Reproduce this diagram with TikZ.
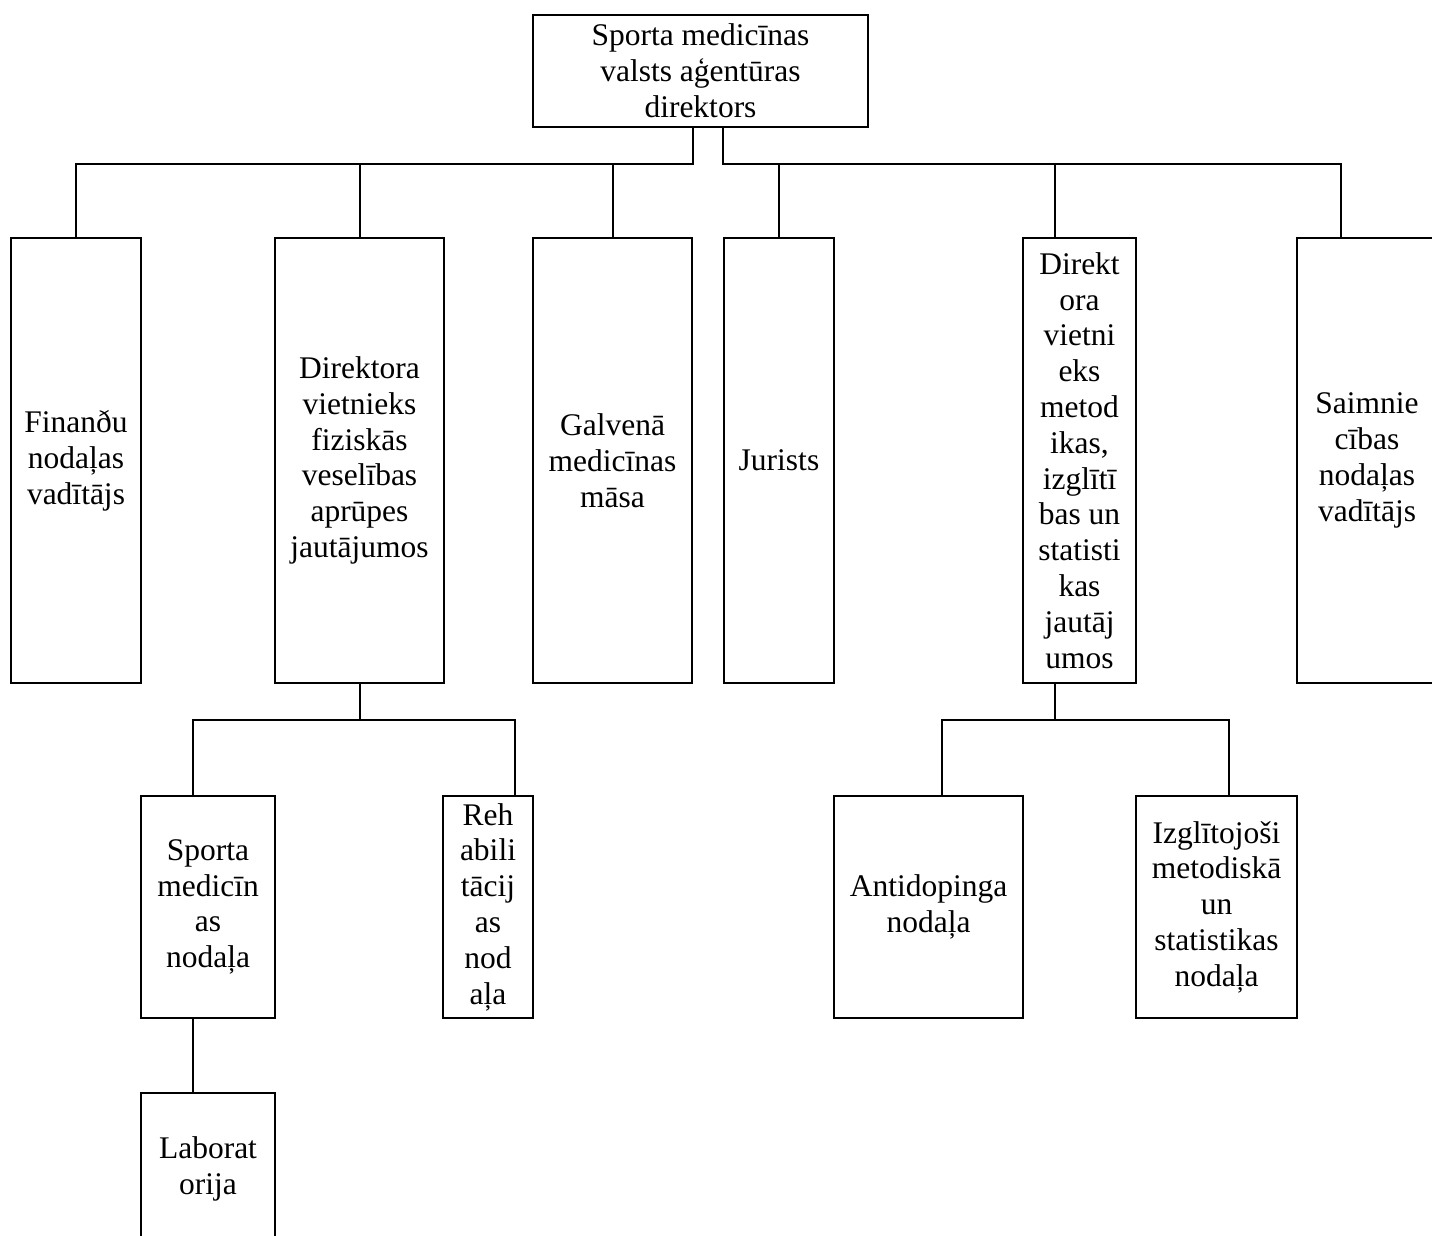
\documentclass[tikz,border=0pt]{standalone}
\usepackage{fontspec}
\setmainfont{Liberation Serif}
\usetikzlibrary{calc}
\tikzstyle{dept} = [rectangle, draw=black, line width=1pt, inner sep=0pt, align=center,
font=\fontsize{15.75}{17.9}\selectfont]
\tikzstyle{link} = [line width=1pt]

\begin{document}
\begin{tikzpicture}[x=0.5pt, y=-0.5pt]
    \useasboundingbox (0,0) rectangle (1432,1236);
    \clip (0,0) rectangle (1432,1236);

    %Top Node
    \node (dir) [dept, minimum width=167.5pt, minimum height=56pt] at (700.5,71) {Sporta medicīnas\\valsts aģentūras\\direktors};

    %Second Level Nodes
    \node (fin) [dept, minimum width=65pt, minimum height=222.5pt] at (76,460.5) {Finanðu\\nodaļas\\vadītājs};
    \node (vietFiz) [dept, minimum width=84.5pt, minimum height=222.5pt] at (359.5,460.5) {Direktora\\vietnieks\\fiziskās\\veselības\\aprūpes\\jautājumos};
    \node (galv) [dept, minimum width=79.5pt, minimum height=222.5pt] at (612.5,460.5) {Galvenā\\medicīnas\\māsa};
    \node (jur) [dept, minimum width=55pt, minimum height=222.5pt] at (779,460.5) {Jurists};
    \node (vietMet) [dept, minimum width=56.5pt, minimum height=222.5pt] at (1079.5,460.5) {Direkt\\ora\\vietni\\eks\\metod\\ikas,\\izglītī\\bas un\\statisti\\kas\\jautāj\\umos};
    \node (saim) [dept, minimum width=70pt, minimum height=222.5pt] at (1367,460.5) {Saimnie\\cības\\nodaļas\\vadītājs};

    %Third Level Nodes
    \node (sportMed) [dept, minimum width=67pt, minimum height=111pt] at (208,907) {Sporta\\medicīn\\as\\nodaļa};
    \node (rehab) [dept, minimum width=45pt, minimum height=111pt] at (488,907) {Reh\\abili\\tācij\\as\\nod\\aļa};
    \node (anti) [dept, minimum width=94.5pt, minimum height=111pt] at (928.5,907) {Antidopinga\\nodaļa};
    \node (izgl) [dept, minimum width=80.5pt, minimum height=111pt] at (1216.5,907) {Izglītojoši\\metodiskā\\un\\statistikas\\nodaļa};
    \node (lab) [dept, minimum width=67pt, minimum height=76pt] at (208,1169) {Laborat\\orija};

    %Bus Points
    \coordinate (busTop) at (0,164);
    \coordinate (busMid) at (0,720);
    \coordinate (metDrop) at ($(vietMet.south)+(-24.5,0)$);
    \coordinate (saimDrop) at ($(saim.north)+(-26,0)$);
    \coordinate (sportDrop) at ($(sportMed.north)+(-15,0)$);
    \coordinate (rehabDrop) at ($(rehab.north)+(27,0)$);
    \coordinate (antiDrop) at ($(anti.north)+(13.5,0)$);
    \coordinate (izglDrop) at ($(izgl.north)+(12.5,0)$);

    %Lines
    \draw [link] (galv.north east |- dir.south) |- (fin.north |- busTop) -- (fin.north);
    \draw [link] (vietFiz.north |- busTop) -- (vietFiz.north);
    \draw [link] (galv.north |- busTop) -- (galv.north);
    \draw [link] (jur.north west |- dir.south) |- (saimDrop |- busTop) -- (saimDrop);
    \draw [link] (jur.north |- busTop) -- (jur.north);
    \draw [link] (metDrop |- busTop) -- (metDrop |- vietMet.north);
    \draw [link] (vietFiz.south) -- (vietFiz.south |- busMid);
    \draw [link] (sportDrop) |- (rehabDrop |- busMid) -- (rehabDrop);
    \draw [link] (sportMed.south -| sportDrop) -- (lab.north -| sportDrop);
    \draw [link] (metDrop) -- (metDrop |- busMid);
    \draw [link] (antiDrop) |- (izglDrop |- busMid) -- (izglDrop);

\end{tikzpicture}
\end{document}
